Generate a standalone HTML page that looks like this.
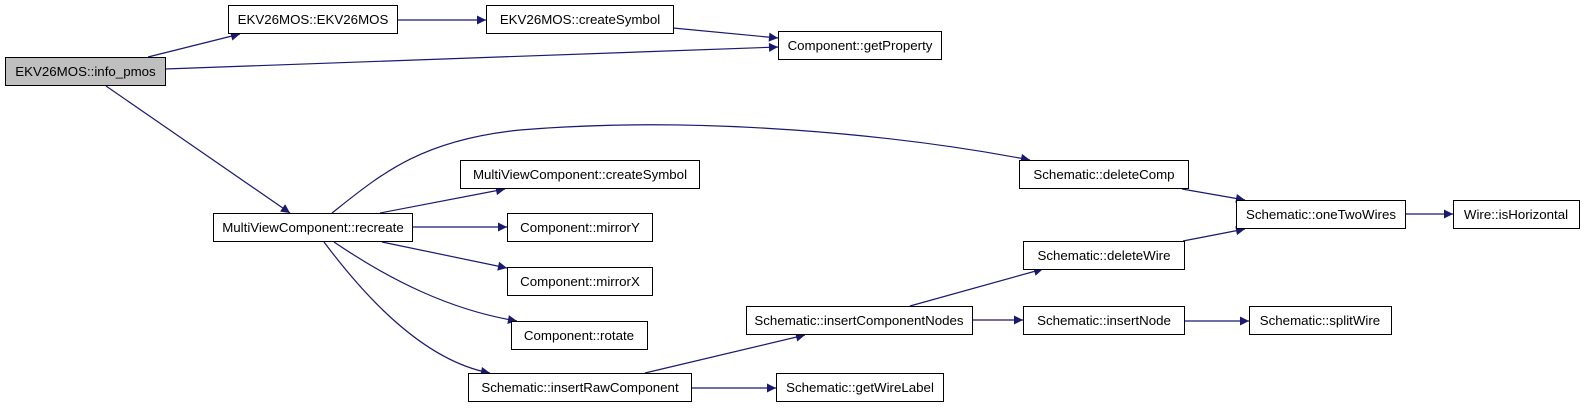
<!DOCTYPE html>
<html><head><meta charset="utf-8"><style>
html,body{margin:0;padding:0;background:#fff;width:1592px;height:408px;overflow:hidden}
svg text{font-family:"Liberation Sans",Arial,sans-serif;font-size:13.3px;fill:#000}
</style></head><body>
<svg width="1592" height="408" viewBox="0 0 1592 408" xmlns="http://www.w3.org/2000/svg">
<defs><marker id="a" viewBox="0 0 10 10" refX="10" refY="5" markerWidth="11" markerHeight="9" orient="auto" markerUnits="userSpaceOnUse"><path d="M0,0L10,5L0,10z" fill="#191970"/></marker></defs>
<g fill="none" stroke="#191970" stroke-width="1.2" marker-end="url(#a)">
<path d="M148,57L240,34"/>
<path d="M397,20L486,20"/>
<path d="M673,28L778,38"/>
<path d="M165,69L778,47"/>
<path d="M106,86L290,213"/>
<path d="M332,213C380,175 420,140 520,130 C700,115 900,135 1030,160"/>
<path d="M380,213L505,189"/>
<path d="M412,227L507,227"/>
<path d="M382,242L507,268"/>
<path d="M334,242C390,280 450,310 517,321"/>
<path d="M324,242C360,290 420,360 490,373"/>
<path d="M645,373L805,335"/>
<path d="M691,388L776,388"/>
<path d="M910,306L1043,269"/>
<path d="M972,320L1023,320"/>
<path d="M1184,321L1249,321"/>
<path d="M1182,189L1245,200"/>
<path d="M1183,241L1245,229"/>
<path d="M1405,214L1453,214"/>
</g>
<g stroke="#000" stroke-width="1" fill="#fff">
<rect x="5.5" y="57.5" width="160" height="28" fill="#bfbfbf"/>
<rect x="228.5" y="5.5" width="169" height="28"/>
<rect x="486.5" y="5.5" width="187" height="28"/>
<rect x="778.5" y="31.5" width="163" height="28"/>
<rect x="213.5" y="213.5" width="199" height="28"/>
<rect x="460.5" y="160.5" width="239" height="28"/>
<rect x="507.5" y="213.5" width="145" height="28"/>
<rect x="507.5" y="267.5" width="145" height="28"/>
<rect x="511.5" y="321.5" width="136" height="28"/>
<rect x="468.5" y="373.5" width="223" height="28"/>
<rect x="776.5" y="373.5" width="167" height="28"/>
<rect x="746.5" y="306.5" width="226" height="28"/>
<rect x="1019.5" y="160.5" width="169" height="28"/>
<rect x="1023.5" y="241.5" width="161" height="28"/>
<rect x="1023.5" y="306.5" width="161" height="28"/>
<rect x="1236.5" y="200.5" width="169" height="28"/>
<rect x="1453.5" y="200.5" width="126" height="28"/>
<rect x="1249.5" y="306.5" width="142" height="28"/>
</g>
<g text-anchor="middle">
<text x="85.5" y="76">EKV26MOS::info_pmos</text>
<text x="313" y="24">EKV26MOS::EKV26MOS</text>
<text x="580" y="24">EKV26MOS::createSymbol</text>
<text x="860" y="50">Component::getProperty</text>
<text x="313" y="232">MultiViewComponent::recreate</text>
<text x="580" y="179">MultiViewComponent::createSymbol</text>
<text x="580" y="232">Component::mirrorY</text>
<text x="580" y="286">Component::mirrorX</text>
<text x="579" y="340">Component::rotate</text>
<text x="580" y="392">Schematic::insertRawComponent</text>
<text x="860" y="392">Schematic::getWireLabel</text>
<text x="859" y="325">Schematic::insertComponentNodes</text>
<text x="1104" y="179">Schematic::deleteComp</text>
<text x="1104" y="260">Schematic::deleteWire</text>
<text x="1104" y="325">Schematic::insertNode</text>
<text x="1321" y="219">Schematic::oneTwoWires</text>
<text x="1516" y="219">Wire::isHorizontal</text>
<text x="1320" y="325">Schematic::splitWire</text>
</g>
</svg>
</body></html>
